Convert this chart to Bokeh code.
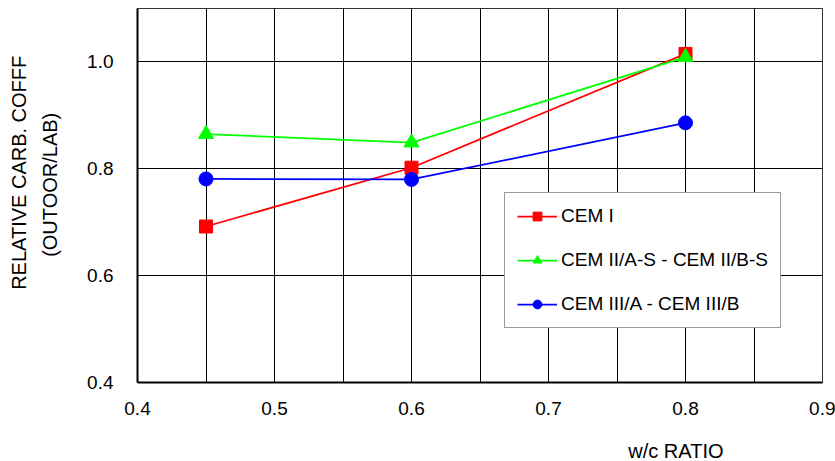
from bokeh.plotting import figure
from bokeh.models import FixedTicker, Legend, LegendItem, Range1d, LinearAxis, PrintfTickFormatter
from bokeh.embed import file_html
from bokeh.resources import INLINE

wc_ratio = [0.45, 0.6, 0.8]
cem_i = [0.692, 0.802, 1.015]
cem_ii = [0.865, 0.849, 1.009]
cem_iii = [0.781, 0.780, 0.886]
series_names = ["CEM I", "CEM II/A-S - CEM II/B-S", "CEM III/A - CEM III/B"]
x_ticks = [0.4, 0.5, 0.6, 0.7, 0.8, 0.9]
x_grid = [0.4, 0.45, 0.5, 0.55, 0.6, 0.65, 0.7, 0.75, 0.8, 0.85, 0.9]
y_ticks = [0.4, 0.6, 0.8, 1.0]
x_title = "w/c RATIO"
y_title_1 = "RELATIVE CARB. COFFF"
y_title_2 = "(OUTOOR/LAB)"

FONT = "Liberation Sans"

p = figure(frame_width=685, frame_height=374, output_backend="svg", toolbar_location=None,
           x_range=Range1d(0.4, 0.9), y_range=Range1d(0.4, 1.1),
           min_border_left=137, min_border_right=13, min_border_top=8, min_border_bottom=70)
p.background_fill_color = "white"
p.border_fill_color = "white"
p.outline_line_color = "#333333"
p.outline_line_width = 1

for ax in (p.xaxis[0], p.yaxis[0]):
    ax.major_label_text_font = FONT
    ax.major_label_text_font_size = "19px"
    ax.major_label_text_color = "black"
    ax.major_tick_line_color = None
    ax.minor_tick_line_color = None
    ax.axis_line_color = "black"
    ax.axis_line_width = 2
    ax.formatter = PrintfTickFormatter(format="%.1f")

p.xaxis.ticker = FixedTicker(ticks=x_ticks)
p.yaxis.ticker = FixedTicker(ticks=y_ticks)
p.xaxis.major_label_standoff = 13
p.yaxis.major_label_standoff = 18

p.xgrid.ticker = FixedTicker(ticks=x_grid)
p.xgrid.grid_line_color = "black"
p.xgrid.grid_line_width = 1
p.ygrid.grid_line_color = "black"
p.ygrid.grid_line_width = 1


def title_axis(pos, text, standoff, orientation="horizontal"):
    return LinearAxis(ticker=FixedTicker(ticks=[pos]), major_label_overrides={pos: text},
                      axis_line_color=None, major_tick_line_color=None, minor_tick_line_color=None,
                      major_label_text_font=FONT, major_label_text_font_size="20px",
                      major_label_text_color="black", major_label_standoff=standoff,
                      major_label_orientation=orientation)


# axis titles placed as label-only axes
p.add_layout(title_axis(0.793, x_title, 16), "below")
p.add_layout(title_axis(0.770, y_title_2, 17, "vertical"), "left")
p.add_layout(title_axis(0.7925, y_title_1, 0, "vertical"), "left")

r1 = p.line(wc_ratio, cem_i, line_color="#FF0000", line_width=1.75)
m1 = p.scatter(wc_ratio, cem_i, marker="square", size=13, fill_color="#FF0000", line_color="#FF0000")
r2 = p.line(wc_ratio, cem_ii, line_color="#00FF00", line_width=1.75)
m2 = p.scatter(wc_ratio, cem_ii, marker="triangle", size=15, fill_color="#00FF00", line_color="#00FF00")
r3 = p.line(wc_ratio, cem_iii, line_color="#0000FF", line_width=1.75)
m3 = p.scatter(wc_ratio, cem_iii, marker="circle", size=14, fill_color="#0000FF", line_color="#0000FF")

legend = Legend(items=[
    LegendItem(label=series_names[0], renderers=[r1, m1]),
    LegendItem(label=series_names[1], renderers=[r2, m2]),
    LegendItem(label=series_names[2], renderers=[r3, m3]),
], location=(367, 54))
legend.label_text_font = FONT
legend.label_text_font_size = "19px"
legend.label_text_color = "black"
legend.glyph_width = 40
legend.glyph_height = 22
legend.label_height = 22
legend.label_standoff = 4
legend.spacing = 22
legend.padding = 12
legend.margin = 0
legend.border_line_color = "#333333"
legend.border_line_width = 1.5
legend.background_fill_alpha = 1
p.add_layout(legend)

open("out.html", "w").write(file_html(p, INLINE))
